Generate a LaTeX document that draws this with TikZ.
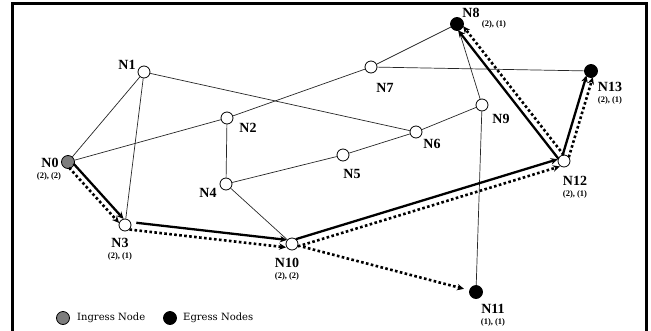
\documentclass[tikz,border=0pt]{standalone}
\usepackage{fontspec}
\setmainfont{Liberation Serif}
\newfontfamily\legfont{DejaVu Serif}
\usetikzlibrary{calc,arrows.meta}
\definecolor{ingray}{RGB}{125,125,125}
\begin{document}
\begin{tikzpicture}[x=1pt,y=-1pt,
  nd/.style={circle,draw,line width=0.8pt,fill=white,minimum size=12pt,inner sep=0pt},
  ing/.style={nd,fill=ingray,minimum size=13pt},
  eg/.style={nd,fill=black,minimum size=13pt},
  edge/.style={line width=0.7pt,black!85},
  lbl/.style={font=\fontsize{14}{14}\selectfont\bfseries,inner sep=0pt},
  sub/.style={font=\fontsize{8.5}{8.5}\selectfont\bfseries,inner sep=0pt},
  legtext/.style={font=\legfont\fontsize{10}{10}\selectfont,inner sep=0pt,anchor=west},
  solidarr/.style={line width=2.3pt,-{Stealth[length=7pt,width=6.5pt]},shorten >=5.5pt,shorten <=5pt},
  dotarr/.style={line width=2.6pt,dash pattern=on 2.6pt off 2.4pt,-{Stealth[length=7pt,width=6.5pt]},shorten >=5.5pt,shorten <=5pt}]
\useasboundingbox (0,0) rectangle (651,330);
\draw[line width=3pt] (12,335) -- (12,3) -- (646,3) -- (646,335);
% nodes
\node[ing] (n0) at (68,162) {};
\node[nd] (n1) at (144,72) {};
\node[nd] (n2) at (227,118) {};
\node[nd] (n3) at (125,225) {};
\node[nd] (n4) at (226,184) {};
\node[nd] (n5) at (343,155) {};
\node[nd] (n6) at (416,132) {};
\node[nd] (n7) at (371,67) {};
\node[eg] (n8) at (457,24) {};
\node[nd] (n9) at (482,105) {};
\node[nd] (n10) at (292,244) {};
\node[eg] (n11) at (476,292) {};
\node[nd] (n12) at (564,161) {};
\node[eg] (n13) at (591,71) {};
% thin edges
\draw[edge] (n0) -- (n1);
\draw[edge] (n0) -- (n2);
\draw[edge] (n2) -- (n7);
\draw[edge] (n7) -- (n8);
\draw[edge] (n7) -- (n13);
\draw[edge] (n1) -- (n3);
\draw[edge] (n1) -- (n6);
\draw[edge] (n2) -- (n4);
\draw[edge] (n4) -- (n5);
\draw[edge] (n5) -- (n6);
\draw[edge] (n6) -- (n9);
\draw[edge] (n9) -- (n8);
\draw[edge] (n9) -- (n11);
\draw[edge] (n4) -- (n10);
% solid path arrows
\draw[solidarr] ($(n0)!3pt!90:(n3)$) -- ($(n3)!3pt!-90:(n0)$);
\draw[solidarr,shorten <=11pt] ($(n3)!3.5pt!90:(n10)$) -- ($(n10)!3.5pt!-90:(n3)$);
\draw[solidarr] ($(n10)!3.5pt!90:(n12)$) -- ($(n12)!3.5pt!-90:(n10)$);
\draw[solidarr] ($(n12)!3pt!90:(n8)$) -- ($(n8)!3pt!-90:(n12)$);
\draw[solidarr] ($(n12)!3pt!90:(n13)$) -- ($(n13)!3pt!-90:(n12)$);
% dotted path arrows
\draw[dotarr] ($(n0)!3pt!-90:(n3)$) -- ($(n3)!3pt!90:(n0)$);
\draw[dotarr] ($(n3)!4pt!-90:(n10)$) -- ($(n10)!4pt!90:(n3)$);
\draw[dotarr] ($(n10)!4pt!-90:(n12)$) -- ($(n12)!4pt!90:(n10)$);
\draw[dotarr] ($(n12)!3.5pt!-90:(n8)$) -- ($(n8)!3.5pt!90:(n12)$);
\draw[dotarr] ($(n12)!3.5pt!-90:(n13)$) -- ($(n13)!3.5pt!90:(n12)$);
\draw[dotarr] (n10) -- (n11);
% labels
\node[lbl] (l0) at (50,163) {N0};
\node[sub] (s0) at (49,176.5) {(2), (2)};
\node[lbl] (l1) at (127,65) {N1};
\node[lbl] (l2) at (248,128) {N2};
\node[lbl] (l3) at (120,243) {N3};
\node[sub] (s3) at (120,256) {(2), (1)};
\node[lbl] (l4) at (208,193) {N4};
\node[lbl] (l5) at (352,174) {N5};
\node[lbl] (l6) at (432,144) {N6};
\node[lbl] (l7) at (385,88) {N7};
\node[lbl] (l8) at (471,13) {N8};
\node[sub] (s8) at (494,24) {(2), (1)};
\node[lbl] (l9) at (501,119) {N9};
\node[lbl] (l10) at (287,263) {N10};
\node[sub] (s10) at (287,276.5) {(2), (2)};
\node[lbl] (l11) at (493,309) {N11};
\node[sub] (s11) at (493,322) {(1), (1)};
\node[lbl] (l12) at (575,181) {N12};
\node[sub] (s12) at (575,194) {(2), (1)};
\node[lbl] (l13) at (610,87) {N13};
\node[sub] (s13) at (610,100) {(2), (1)};
% legend
\node[ing] (lg1) at (63,318) {};
\node[legtext] (lt1) at (77,318) {Ingress Node};
\node[eg] (lg2) at (170,318) {};
\node[legtext] (lt2) at (183,318) {Egress Nodes};
\end{tikzpicture}
\end{document}
